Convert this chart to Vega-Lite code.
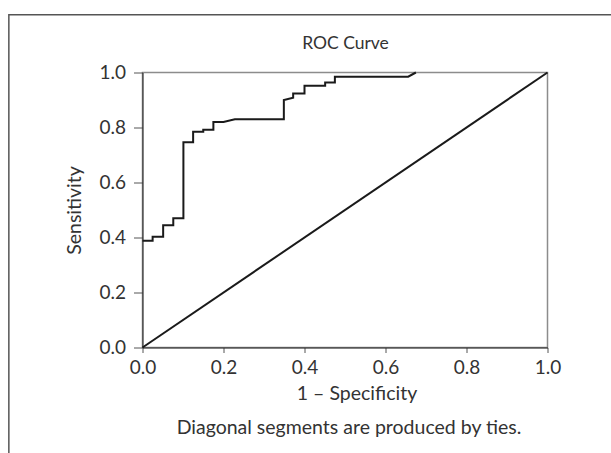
{
  "$schema": "https://vega.github.io/schema/vega-lite/v6.json",
  "width": 405,
  "height": 275,
  "autosize": {"type": "none"},
  "padding": {"left": 142.5, "top": 72.5, "right": 63.5, "bottom": 105.5},
  "background": "white",
  "config": {
    "font": "Lato",
    "view": {"stroke": "#8c8c8c", "strokeWidth": 1.5},
    "axis": {
      "labelFont": "Lato", "labelFontSize": 19, "labelColor": "#333333",
      "titleFont": "Lato", "titleFontSize": 19.5, "titleFontWeight": "normal", "titleColor": "#333333",
      "domainColor": "#222222", "tickColor": "#555555", "grid": false
    }
  },
  "resolve": {"axis": {"x": "independent"}},
  "layer": [
    {
      "data": {"values": [
        {"i": 0, "fpr": 0.0, "tpr": 0.388},
        {"i": 1, "fpr": 0.025, "tpr": 0.388},
        {"i": 2, "fpr": 0.025, "tpr": 0.403},
        {"i": 3, "fpr": 0.051, "tpr": 0.403},
        {"i": 4, "fpr": 0.051, "tpr": 0.445},
        {"i": 5, "fpr": 0.076, "tpr": 0.445},
        {"i": 6, "fpr": 0.076, "tpr": 0.470},
        {"i": 7, "fpr": 0.101, "tpr": 0.470},
        {"i": 8, "fpr": 0.101, "tpr": 0.746},
        {"i": 9, "fpr": 0.125, "tpr": 0.746},
        {"i": 10, "fpr": 0.125, "tpr": 0.785},
        {"i": 11, "fpr": 0.150, "tpr": 0.785},
        {"i": 12, "fpr": 0.150, "tpr": 0.792},
        {"i": 13, "fpr": 0.175, "tpr": 0.792},
        {"i": 14, "fpr": 0.175, "tpr": 0.820},
        {"i": 15, "fpr": 0.200, "tpr": 0.820},
        {"i": 16, "fpr": 0.228, "tpr": 0.830},
        {"i": 17, "fpr": 0.349, "tpr": 0.830},
        {"i": 18, "fpr": 0.349, "tpr": 0.900},
        {"i": 19, "fpr": 0.372, "tpr": 0.908},
        {"i": 20, "fpr": 0.372, "tpr": 0.924},
        {"i": 21, "fpr": 0.400, "tpr": 0.924},
        {"i": 22, "fpr": 0.400, "tpr": 0.952},
        {"i": 23, "fpr": 0.451, "tpr": 0.952},
        {"i": 24, "fpr": 0.451, "tpr": 0.964},
        {"i": 25, "fpr": 0.475, "tpr": 0.964},
        {"i": 26, "fpr": 0.475, "tpr": 0.985},
        {"i": 27, "fpr": 0.656, "tpr": 0.985},
        {"i": 28, "fpr": 0.675, "tpr": 1.0}
      ]},
      "mark": {"type": "line", "color": "#1a1a1a", "strokeWidth": 2},
      "encoding": {
        "x": {
          "field": "fpr", "type": "quantitative",
          "scale": {"domain": [0, 1]},
          "axis": {
            "title": "1 – Specificity", "values": [0, 0.2, 0.4, 0.6, 0.8, 1],
            "format": ".1f", "tickSize": 5, "labelPadding": 6, "labelFlush": false,
            "titlePadding": 7, "titleX": 214
          }
        },
        "y": {
          "field": "tpr", "type": "quantitative",
          "scale": {"domain": [0, 1]},
          "axis": {
            "title": "Sensitivity", "values": [0, 0.2, 0.4, 0.6, 0.8, 1],
            "format": ".1f", "tickSize": 9, "labelPadding": 8, "labelFlush": false,
            "titlePadding": 14
          }
        },
        "order": {"field": "i", "type": "quantitative"}
      }
    },
    {
      "data": {"values": [{"fpr": 0, "tpr": 0}, {"fpr": 1, "tpr": 1}]},
      "mark": {"type": "line", "color": "#1a1a1a", "strokeWidth": 2},
      "encoding": {
        "x": {
          "field": "fpr", "type": "quantitative",
          "axis": {"orient": "top", "title": "ROC Curve", "titleFontSize": 17.5, "labels": false, "ticks": false, "domain": false, "titlePadding": 20}
        },
        "y": {"field": "tpr", "type": "quantitative"}
      }
    },
    {
      "data": {"values": [{}]},
      "mark": {"type": "rect", "filled": false, "stroke": "#555555", "strokeWidth": 1.5, "clip": false},
      "encoding": {
        "x": {
          "datum": -0.33, "type": "quantitative",
          "axis": {"orient": "bottom", "title": "Diagonal segments are produced by ties.", "labels": false, "ticks": false, "domain": false, "titlePadding": 71, "titleX": 206}
        },
        "x2": {"datum": 1.6},
        "y": {"datum": 1.21, "type": "quantitative"},
        "y2": {"datum": -0.6}
      }
    }
  ]
}
